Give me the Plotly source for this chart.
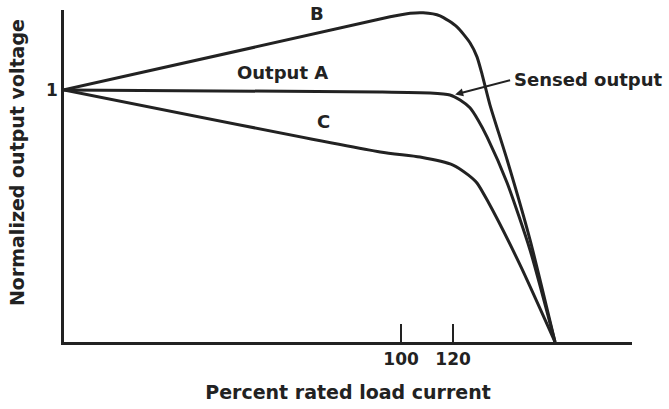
import plotly.graph_objects as go

# Load (percent of rated) and normalized output voltage for each regulator curve
x_start = -29.6
b_x = [x_start, 95.8, 103.5, 108.5, 115.0, 121.5, 126.5, 129.2, 131.2, 134.2, 140.8, 149.6, 159.2]
b_y = [1.0, 1.290, 1.304, 1.306, 1.294, 1.250, 1.187, 1.131, 1.060, 0.940, 0.722, 0.405, 0.0]

a_x = [x_start, 91.9, 111.2, 118.8, 122.7, 126.5, 129.6, 133.1, 140.8, 149.6, 159.2]
a_y = [1.0, 0.992, 0.988, 0.980, 0.960, 0.929, 0.881, 0.813, 0.631, 0.365, 0.0]

c_x = [x_start, 92.0, 107.3, 120.0, 125.8, 129.2, 133.1, 145.8, 159.2]
c_y = [1.0, 0.754, 0.734, 0.702, 0.663, 0.631, 0.563, 0.305, 0.0]

x_ticks = [100, 120]
x_tick_text = ["100", "120"]
y_ticks = [1]
y_tick_text = ["1"]

INK = "#222222"
FONT = "DejaVu Sans"

fig = go.Figure()
for xs, ys, name in [(b_x, b_y, "B"), (a_x, a_y, "Output A"), (c_x, c_y, "C")]:
    fig.add_trace(go.Scatter(
        x=xs, y=ys, mode="lines", name=name,
        line=dict(color=INK, width=3, shape="spline", smoothing=0.6),
        showlegend=False, hoverinfo="skip",
    ))

label_font = dict(family=FONT, size=18, color=INK, weight="bold")
fig.add_annotation(x=67.7, y=1.302, text="B", showarrow=False, font=label_font)
fig.add_annotation(x=54.5, y=1.071, text="Output A", showarrow=False, font=label_font)
fig.add_annotation(x=70.0, y=0.873, text="C", showarrow=False, font=label_font)
fig.add_annotation(x=142.7, y=1.040, text="Sensed output", showarrow=False,
                   xanchor="left", font=label_font)
# Pointer from the "Sensed output" label to the knee of output A
fig.add_annotation(x=120.8, y=0.982, ax=142.5, ay=1.040, axref="x", ayref="y",
                   text="", showarrow=True, arrowhead=2, arrowsize=0.8,
                   arrowwidth=2, arrowcolor=INK, standoff=0)

# Vertical axis title, set slightly above the plot's vertical centre
fig.add_annotation(xref="paper", yref="paper", x=-0.0827, y=0.539,
                   text="Normalized output voltage", textangle=-90,
                   showarrow=False, xanchor="center", yanchor="middle",
                   font=dict(family=FONT, size=19, color=INK, weight="bold"))

fig.update_layout(
    width=669, height=409,
    margin=dict(l=64, r=37, t=10, b=67),
    paper_bgcolor="white", plot_bgcolor="white",
    font=dict(family=FONT, color=INK),
    xaxis=dict(
        range=[x_start, 188.8], showgrid=False, zeroline=False,
        showline=True, linecolor=INK, linewidth=2.5,
        tickmode="array", tickvals=x_ticks, ticktext=x_tick_text,
        ticks="inside", ticklen=18, tickwidth=2, tickcolor=INK,
        tickfont=dict(family=FONT, size=17, color=INK, weight="bold"),
        title=dict(text="Percent rated load current", standoff=18,
                   font=dict(family=FONT, size=19, color=INK, weight="bold")),
    ),
    yaxis=dict(
        range=[0, 1.317], showgrid=False, zeroline=False,
        showline=True, linecolor=INK, linewidth=2.5,
        tickmode="array", tickvals=y_ticks, ticktext=y_tick_text,
        ticks="", tickfont=dict(family=FONT, size=17, color=INK, weight="bold"),
    ),
)

fig.write_html("out.html")
